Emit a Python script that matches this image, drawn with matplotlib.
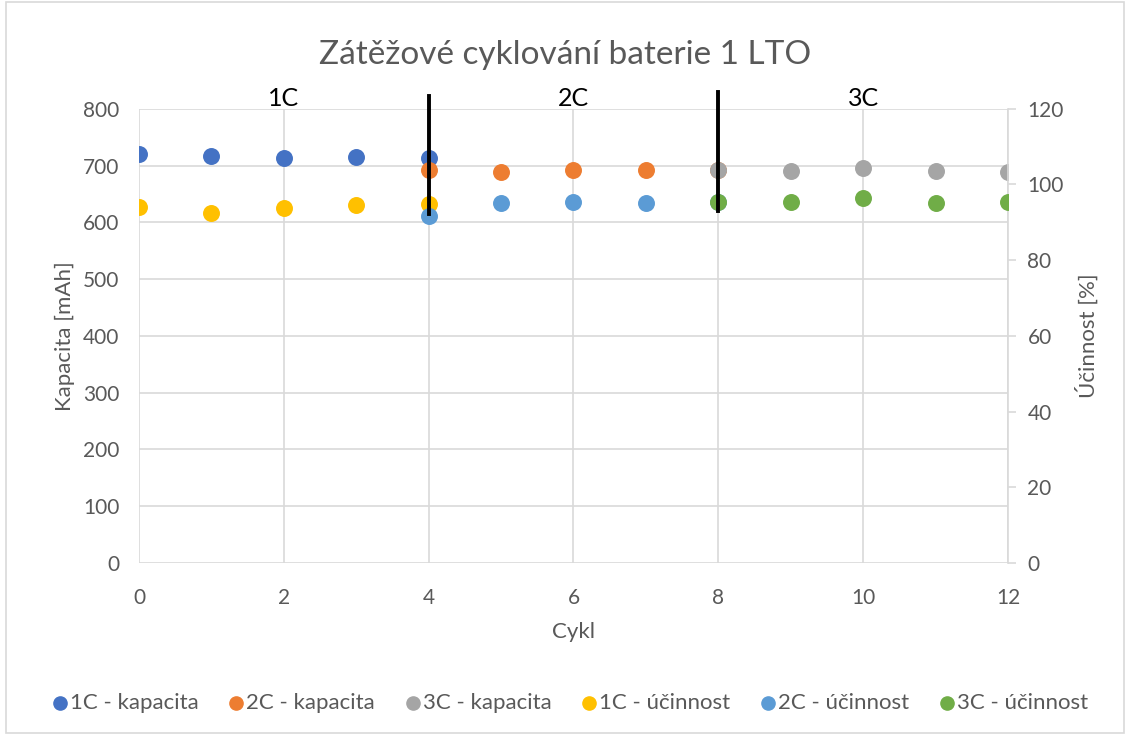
import matplotlib.pyplot as plt
from matplotlib.patches import Rectangle

plt.rcParams['font.family'] = ['Lato', 'DejaVu Sans']

cyc1 = [0, 1, 2, 3, 4]
cyc2 = [4, 5, 6, 7, 8]
cyc3 = [8, 9, 10, 11, 12]

kap_1c = [720, 716, 713, 715, 714]
kap_2c = [692, 689, 692, 692, 692]
kap_3c = [692, 690, 695, 690, 689]

uc_1c = [94.0, 92.4, 93.7, 94.6, 94.8]
uc_2c = [91.8, 95.0, 95.5, 95.2, 95.4]
uc_3c = [95.5, 95.5, 96.3, 95.1, 95.5]

divider_x = [4, 8]
divider_y = [[615, 823], [620, 830]]  # in mAh
phase_labels = ["1C", "2C", "3C"]
phase_x = [2, 6, 10]

grey = "#595959"
gridc = "#d9d9d9"

fig = plt.figure(figsize=(11.3, 7.35), dpi=100)
fig.patches.append(Rectangle((0.005, 0.003), 0.99, 0.994, transform=fig.transFigure,
                             fill=False, edgecolor=gridc, lw=1.2))
ax = fig.add_axes([0.123, 0.234, 0.769, 0.618])
ax2 = ax.twinx()

ms = 125
h1 = ax.scatter(cyc1, kap_1c, s=ms, color="#4472c4", zorder=3, label="1C - kapacita")
h2 = ax.scatter(cyc2, kap_2c, s=ms, color="#ed7d31", zorder=3, label="2C - kapacita")
h3 = ax.scatter(cyc3, kap_3c, s=ms, color="#a5a5a5", zorder=3, label="3C - kapacita")
h4 = ax2.scatter(cyc1, uc_1c, s=ms, color="#ffc000", zorder=3, label="1C - účinnost")
h5 = ax2.scatter(cyc2, uc_2c, s=ms, color="#5b9bd5", zorder=3, label="2C - účinnost")
h6 = ax2.scatter(cyc3, uc_3c, s=ms, color="#70ad47", zorder=3, label="3C - účinnost")

for xv, yv in zip(divider_x, divider_y):
    ax2.plot([xv, xv], [yv[0] * 0.15, yv[1] * 0.15], color="black", lw=2.8,
             clip_on=False, zorder=5)

for lab, xv in zip(phase_labels, phase_x):
    ax.text(xv, 818, lab, ha="center", va="center", fontsize=18, color="black")

ax.set_xlim(0, 12)
ax.set_ylim(0, 800)
ax2.set_ylim(0, 120)
ax.set_xticks(range(0, 13, 2))
ax.set_yticks(range(0, 801, 100))
ax2.set_yticks(range(0, 121, 20))
ax.grid(True, color=gridc, lw=1.2)
ax.set_axisbelow(True)

for a in (ax, ax2):
    for s in a.spines.values():
        s.set_visible(False)
    a.tick_params(length=0, labelsize=15, colors=grey, pad=14)
ax2.spines["right"].set_visible(True)
ax2.spines["right"].set_color(gridc)
ax2.spines["right"].set_linewidth(1.2)
ax2.tick_params(axis="y", length=6, direction="out", color=gridc, width=1.2, pad=8)
ax.tick_params(axis="x", pad=18)

ax.set_xlabel("Cykl", fontsize=16, color=grey, labelpad=10)
ax.set_ylabel("Kapacita [mAh]", fontsize=16, color=grey, labelpad=6)
ax2.set_ylabel("Účinnost [%]", fontsize=16, color=grey, labelpad=8)
fig.suptitle("Zátěžové cyklování baterie 1 LTO", fontsize=24, color=grey, y=0.945)

leg = fig.legend(handles=[h1, h2, h3, h4, h5, h6], loc="center", bbox_to_anchor=(0.5, 0.044),
                 ncol=6, frameon=False, fontsize=16, handletextpad=-0.35, columnspacing=0.9,
                 handlelength=1.6, markerscale=0.85)
for t in leg.get_texts():
    t.set_color(grey)

fig.savefig("out.png", dpi=100)
